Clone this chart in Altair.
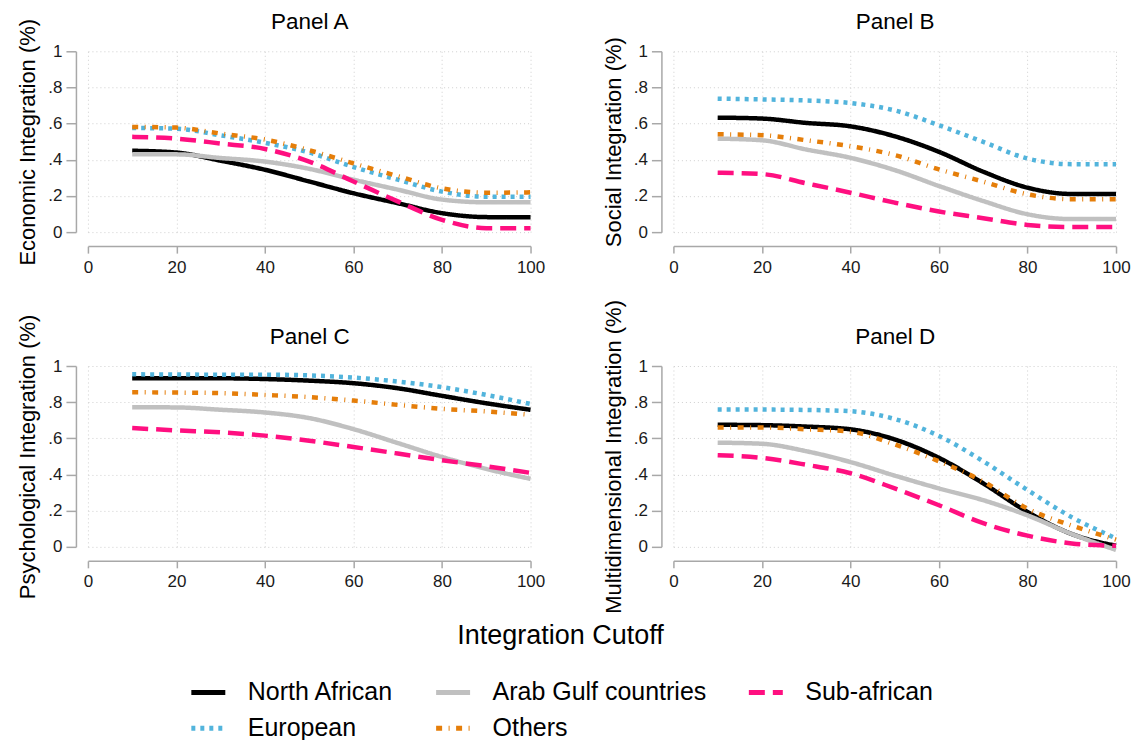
import altair as alt
import pandas as pd

cutoff = [10, 20, 30, 40, 50, 60, 70, 80, 90, 100]
groups = ["North African", "Arab Gulf countries", "Sub-african", "European", "Others"]
colors = ["#000000", "#c0c0c0", "#ff0f80", "#52b4dc", "#e57e0a"]
dashes = [[1, 0], [1, 0], [16, 8], [4, 5], [6, 6.5, 1, 6.5]]

econ_north = [0.45, 0.44, 0.395, 0.345, 0.28, 0.215, 0.16, 0.105, 0.083, 0.082]
econ_gulf = [0.43, 0.43, 0.41, 0.39, 0.35, 0.29, 0.235, 0.18, 0.165, 0.165]
econ_sub = [0.527, 0.517, 0.49, 0.46, 0.39, 0.28, 0.17, 0.068, 0.022, 0.022]
econ_euro = [0.576, 0.572, 0.535, 0.494, 0.44, 0.36, 0.29, 0.224, 0.196, 0.196]
econ_other = [0.582, 0.578, 0.545, 0.512, 0.453, 0.38, 0.31, 0.242, 0.218, 0.22]

soc_north = [0.633, 0.628, 0.604, 0.585, 0.53, 0.444, 0.334, 0.246, 0.211, 0.211]
soc_gulf = [0.517, 0.508, 0.457, 0.411, 0.343, 0.255, 0.172, 0.099, 0.072, 0.072]
soc_sub = [0.328, 0.321, 0.27, 0.218, 0.163, 0.114, 0.077, 0.04, 0.028, 0.028]
soc_euro = [0.738, 0.734, 0.728, 0.714, 0.673, 0.591, 0.499, 0.407, 0.376, 0.376]
soc_other = [0.541, 0.536, 0.508, 0.475, 0.426, 0.347, 0.279, 0.209, 0.182, 0.182]

psy_north = [0.932, 0.932, 0.932, 0.928, 0.919, 0.905, 0.877, 0.835, 0.794, 0.758]
psy_gulf = [0.772, 0.771, 0.758, 0.743, 0.712, 0.651, 0.574, 0.497, 0.431, 0.376]
psy_sub = [0.657, 0.644, 0.633, 0.615, 0.587, 0.552, 0.516, 0.479, 0.446, 0.409]
psy_euro = [0.954, 0.953, 0.952, 0.952, 0.948, 0.936, 0.914, 0.883, 0.84, 0.79]
psy_other = [0.855, 0.853, 0.85, 0.84, 0.828, 0.809, 0.785, 0.763, 0.749, 0.73]

multi_north = [0.675, 0.673, 0.665, 0.65, 0.594, 0.492, 0.351, 0.193, 0.071, 0.006]
multi_gulf = [0.576, 0.57, 0.529, 0.469, 0.394, 0.323, 0.258, 0.174, 0.071, -0.017]
multi_sub = [0.507, 0.492, 0.454, 0.407, 0.323, 0.23, 0.131, 0.062, 0.019, 0.006]
multi_euro = [0.759, 0.759, 0.757, 0.75, 0.707, 0.613, 0.473, 0.314, 0.164, 0.047]
multi_other = [0.66, 0.66, 0.65, 0.637, 0.566, 0.473, 0.361, 0.211, 0.118, 0.04]

FONT = "Liberation Sans"
W, H = 443, 181


def make_df(series):
    rows = []
    for g, vals in zip(groups, series):
        for x, v in zip(cutoff, vals):
            rows.append({"cutoff": x, "value": v, "group": g})
    return pd.DataFrame(rows)


legend = alt.Legend(
    title="Integration Cutoff",
    orient="none",
    legendX=101,
    legendY=572,
    columns=3,
    direction="horizontal",
)


def panel(series, title, ytitle):
    df = make_df(series)
    xscale = alt.Scale(domain=[0, 100], nice=False, zero=False)
    yenc = alt.Y(
        "value:Q",
        scale=alt.Scale(domain=[0, 1], nice=False),
        axis=alt.Axis(
            values=[0, 0.2, 0.4, 0.6, 0.8, 1],
            title=ytitle,
            offset=12,
            tickSize=10,
            labelPadding=4,
            titlePadding=8,
            labelExpr="datum.value == 0 ? '0' : datum.value == 1 ? '1' : replace(format(datum.value, '.1f'), '0.', '.')",
        ),
    )
    lines = (
        alt.Chart(df)
        .mark_line(strokeWidth=4.5, interpolate="monotone", clip=False)
        .encode(
            x=alt.X(
                "cutoff:Q",
                scale=xscale,
                axis=alt.Axis(values=[0, 20, 40, 60, 80, 100], title=None, offset=14,
                              tickSize=7, labelPadding=6, labelFlush=False),
            ),
            y=yenc,
            color=alt.Color("group:N", scale=alt.Scale(domain=groups, range=colors), legend=legend),
            strokeDash=alt.StrokeDash("group:N", scale=alt.Scale(domain=groups, range=dashes), legend=legend),
        )
    )
    top = (
        alt.Chart(df)
        .mark_line(strokeOpacity=0)
        .encode(
            x=alt.X(
                "cutoff:Q",
                scale=xscale,
                axis=alt.Axis(orient="top", title=title, labels=False, ticks=False, domain=False,
                              grid=False, titleFontSize=22.5, titlePadding=18),
            ),
            y=yenc,
        )
    )
    return alt.layer(lines, top).resolve_axis(x="independent").properties(width=W, height=H)


pA = panel([econ_north, econ_gulf, econ_sub, econ_euro, econ_other], "Panel A", "Economic Integration (%)")
pB = panel([soc_north, soc_gulf, soc_sub, soc_euro, soc_other], "Panel B", "Social Integration (%)")
pC = panel([psy_north, psy_gulf, psy_sub, psy_euro, psy_other], "Panel C", "Psychological Integration (%)")
pD = panel([multi_north, multi_gulf, multi_sub, multi_euro, multi_other], "Panel D", "Multidimensional Integration (%)")

chart = (
    alt.concat(pA, pB, pC, pD, columns=2, spacing={"row": 134, "column": 143}, bounds="flush")
    .properties(padding={"left": 8, "top": 2, "right": 0, "bottom": 0})
    .configure_view(stroke=None)
    .configure_axis(
        domainColor="#a8a8a8",
        domainWidth=1.5,
        tickColor="#a8a8a8",
        tickWidth=1.5,
        labelFont=FONT,
        labelFontSize=17,
        labelColor="#1a1a1a",
        titleFont=FONT,
        titleFontSize=22,
        titleFontWeight="normal",
        titleColor="#000000",
        gridColor="#cfcfcf",
        gridDash=[1, 3],
        gridWidth=1,
    )
    .configure_legend(
        symbolType="stroke",
        symbolSize=1156,
        symbolStrokeWidth=5,
        labelFont=FONT,
        labelFontSize=25,
        labelColor="#000000",
        labelLimit=0,
        labelOffset=20,
        titleFont=FONT,
        titleFontSize=27,
        titleFontWeight="normal",
        titleColor="#000000",
        titleAnchor="middle",
        titleLimit=0,
        titlePadding=23,
        columnPadding=32,
        rowPadding=3,
    )
)

chart.save("out.html", embed_options={"renderer": "svg", "actions": False})
